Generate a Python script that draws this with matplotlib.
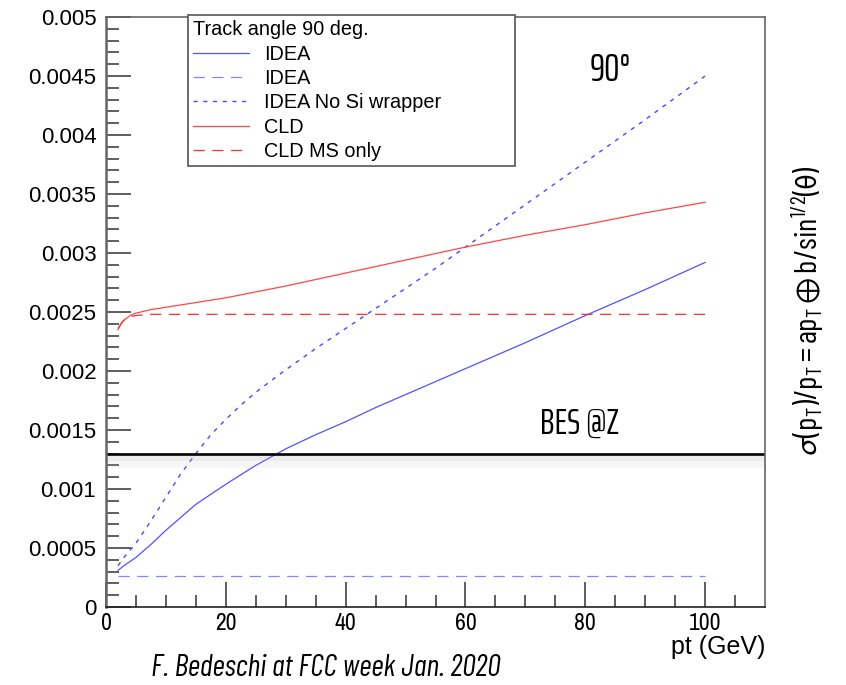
import matplotlib
matplotlib.use("Agg")
import matplotlib.pyplot as plt
from matplotlib import font_manager
import matplotlib.patheffects as pe
import numpy as np

# ---------------- data ----------------
pt_idea = [2, 3, 5, 7.5, 10, 12.5, 15, 20, 25, 30, 35, 40, 45, 50, 60, 70, 80, 90, 100]
res_idea = [0.00031, 0.00035, 0.00042, 0.00053, 0.00065, 0.00076, 0.00087, 0.00104,
            0.00120, 0.00134, 0.00146, 0.00157, 0.00169, 0.00180, 0.00202, 0.00224,
            0.00247, 0.00269, 0.00292]

pt_idea_ms = [2, 100]
res_idea_ms = [0.000265, 0.000265]

pt_nosi = [2, 3, 5, 7.5, 10, 12.5, 15, 17.5, 20, 22.5, 25, 30, 35, 40, 45, 50, 55, 60,
           70, 80, 90, 100]
res_nosi = [0.00035, 0.00042, 0.00054, 0.00073, 0.00093, 0.00113, 0.00130, 0.00146,
            0.00159, 0.00171, 0.00182, 0.00201, 0.00219, 0.00236, 0.00253, 0.00270,
            0.00287, 0.00305, 0.00341, 0.00377, 0.00413, 0.00450]

pt_cld = [2, 2.5, 3, 4, 5, 7.5, 10, 20, 30, 40, 50, 60, 70, 80, 90, 100]
res_cld = [0.00235, 0.00240, 0.00243, 0.00247, 0.00249, 0.00252, 0.00254, 0.00262,
           0.00272, 0.00283, 0.00294, 0.00305, 0.00315, 0.00324, 0.00334, 0.00343]

pt_cld_ms = [2, 2.5, 3, 4, 5, 7.5, 10, 100]
res_cld_ms = [0.00236, 0.00240, 0.00243, 0.00246, 0.00247, 0.00248, 0.00248, 0.00248]

bes_z = 0.0013

series_labels = ["IDEA", "IDEA", "IDEA No Si wrapper", "CLD", "CLD MS only"]
legend_title = "Track angle 90 deg."

xticks = [0, 20, 40, 60, 80, 100]
xtick_labels = ["0", "20", "40", "60", "80", "100"]
yticks = [0, 0.0005, 0.001, 0.0015, 0.002, 0.0025, 0.003, 0.0035, 0.004, 0.0045, 0.005]
ytick_labels = ["0", "0.0005", "0.001", "0.0015", "0.002", "0.0025", "0.003",
                "0.0035", "0.004", "0.0045", "0.005"]

# ---------------- fonts ----------------
names = sorted({f.name for f in font_manager.fontManager.ttflist})
def pick(cands):
    for c in cands:
        if c in names:
            return c
    return "DejaVu Sans"
narrow = pick(["Archivo Narrow", "PT Sans Narrow", "DejaVu Sans"])
agency = pick(["Barlow Condensed", "Asap Condensed", "DejaVu Sans"])
square = pick(["Saira ExtraCondensed", "Barlow Condensed", "DejaVu Sans"])

plt.rcParams['font.family'] = ['Liberation Sans', 'DejaVu Sans']
plt.rcParams['mathtext.fontset'] = 'custom'
plt.rcParams['mathtext.rm'] = agency
plt.rcParams['mathtext.it'] = agency
plt.rcParams['mathtext.fallback'] = 'stixsans'

fig = plt.figure(figsize=(8.46, 6.85), dpi=100)
ax = fig.add_axes([0.1253, 0.1139, 0.7790, 0.8613])

blue = '#5252ff'
ax.plot(pt_idea, res_idea, color=blue, lw=0.9, label=series_labels[0])
ax.plot(pt_idea_ms, res_idea_ms, color='#8585ff', lw=0.9, dashes=(9, 6), label=series_labels[1])
ax.plot(pt_nosi, res_nosi, color='#4848ff', lw=1.0, dashes=(3, 4), label=series_labels[2])
ax.plot(pt_cld, res_cld, color='#ff4646', lw=0.9, label=series_labels[3])
ax.plot(pt_cld_ms, res_cld_ms, color='#ff3030', lw=0.9, dashes=(9, 6), label=series_labels[4])

ax.axhline(bes_z, color='black', lw=1.9,
           path_effects=[pe.SimpleLineShadow(offset=(0, -5), shadow_color='#bbbbbb', alpha=0.12, linewidth=9),
                         pe.SimpleLineShadow(offset=(0, -3), shadow_color='#aaaaaa', alpha=0.15, linewidth=4),
                         pe.Normal()])

ax.set_xlim(0, 110)
ax.set_ylim(0, 0.005)
ax.set_xticks(xticks)
ax.set_xticklabels(xtick_labels, family=[narrow, 'DejaVu Sans'], fontsize=17)
ax.set_xticks(np.arange(5, 110, 5), minor=True)
ax.set_yticks(yticks)
ax.set_yticklabels(ytick_labels, fontsize=16)
ax.set_yticks(np.arange(0, 0.00501, 0.0001), minor=True)
ax.tick_params(axis='both', which='major', direction='in', length=18, width=1.1, color='#333333')
ax.tick_params(axis='both', which='minor', direction='in', length=9, width=1.1, color='#333333')
ax.tick_params(axis='y', which='major', pad=7)
ax.tick_params(axis='x', which='major', pad=4)
for s in ax.spines.values():
    s.set_color('#666666')
    s.set_linewidth(1.2)
ax.spines['left'].set_linewidth(1.8)
ax.spines['bottom'].set_color('#222222')

ax.text(1.0, -0.048, "pt (GeV)", transform=ax.transAxes, ha='right', va='top', fontsize=18)

fig.text(0.955, 0.546, r'$\sigma(p_{\mathrm{T}})/p_{\mathrm{T}} = ap_{\mathrm{T}} \oplus b/\mathrm{sin}^{1/2}(\mathrm{\theta})$',
         rotation=90, ha='center', va='center', fontsize=22.5)

ax.text(0.765, 0.91, "90°", transform=ax.transAxes, fontsize=28,
        family=[square, 'DejaVu Sans'], va='center', ha='center')
ax.text(0.718, 0.31, "BES @Z", transform=ax.transAxes, fontsize=26,
        family=[square, 'DejaVu Sans'], va='center', ha='center')

fig.text(0.385, 0.025, "F. Bedeschi at FCC week Jan. 2020", fontsize=22,
         family=[agency, 'DejaVu Sans'], style='italic',
         ha='center', va='center')

leg = ax.legend(title=legend_title, loc='upper left',
                bbox_to_anchor=(0.124, 0.751, 0.496, 0.252), mode='expand',
                borderaxespad=0, fontsize=14.3, title_fontsize=14.3, alignment='left',
                handlelength=2.85, handletextpad=0.75, labelspacing=0.27,
                borderpad=0.25, fancybox=False, framealpha=1, edgecolor='#555555')
leg.get_frame().set_linewidth(1.2)

fig.savefig("out.png", dpi=100)
